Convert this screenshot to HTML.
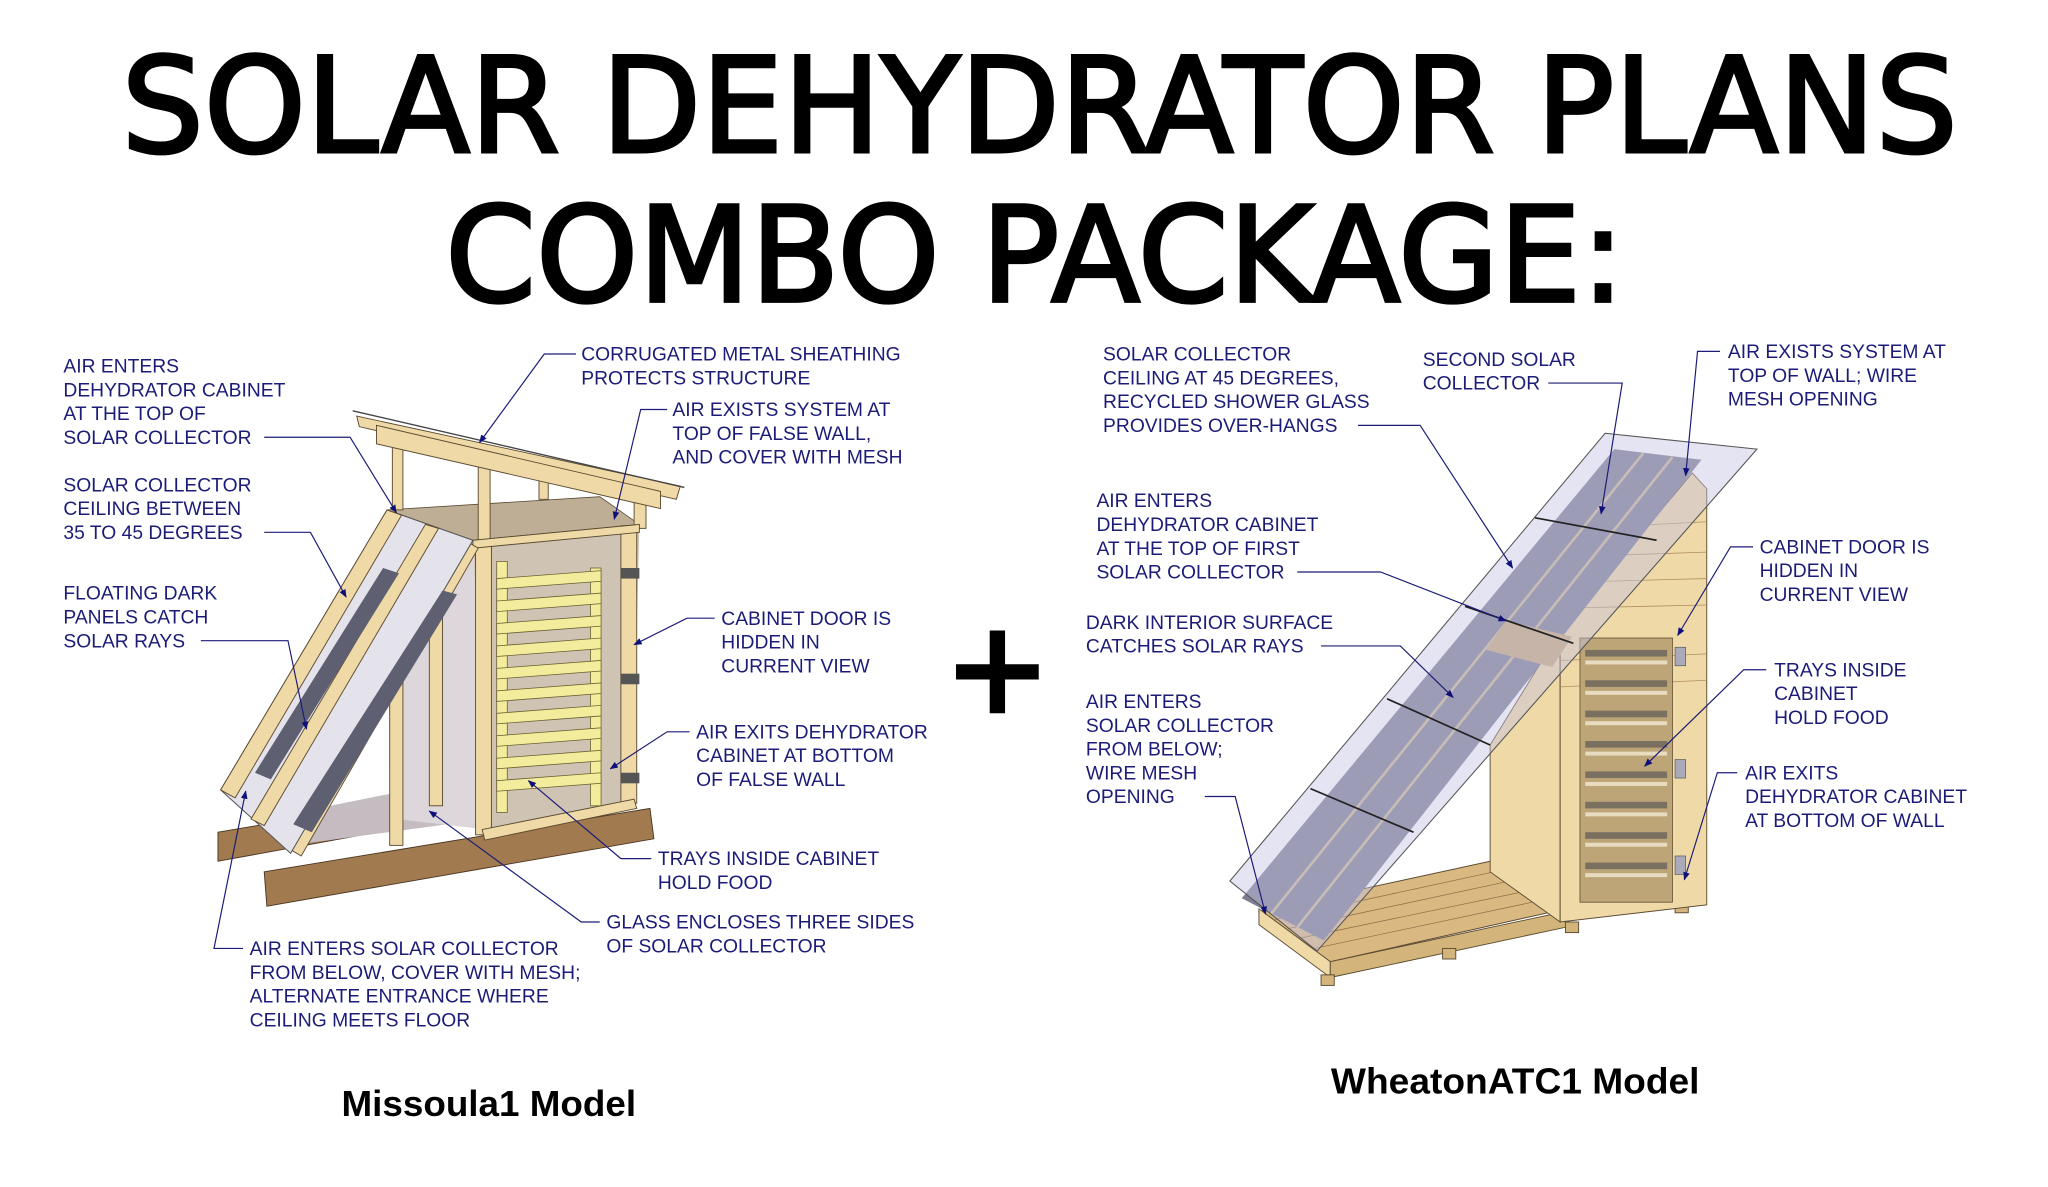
<!DOCTYPE html>
<html><head><meta charset="utf-8"><style>
html,body{margin:0;padding:0;background:#fff;}
svg{display:block;}
.t{font-family:"Liberation Sans",Arial,sans-serif;font-size:14.6px;fill:#1c1c78;}
.l{fill:none;stroke:#1c1c78;stroke-width:0.9;}
.w{fill:#efd9a6;stroke:#5a4a30;stroke-width:0.7;}
.wd{fill:#d3b47a;stroke:#5a4a30;stroke-width:0.7;}
.sk{fill:#a27a50;stroke:#4a3520;stroke-width:0.7;}
.tr{fill:#f3ec9c;stroke:#6a6030;stroke-width:0.6;}
</style></head><body>
<svg width="2048" height="1187" viewBox="0 0 1550.3 898.6" preserveAspectRatio="none" xmlns="http://www.w3.org/2000/svg">
<defs>
<marker id="a" viewBox="0 0 10 10" refX="9" refY="5" markerWidth="7" markerHeight="7" orient="auto"><path d="M0,1 L10,5 L0,9 z" fill="#10107a"/></marker>
</defs>
<!-- Title -->
<text x="92" y="115" textLength="1390" lengthAdjust="spacingAndGlyphs" style="font-family:'DejaVu Sans','Liberation Sans',sans-serif;font-size:100px;fill:#000;stroke:#000;stroke-width:2.5">SOLAR DEHYDRATOR PLANS</text>
<text x="337" y="228" textLength="893" lengthAdjust="spacingAndGlyphs" style="font-family:'DejaVu Sans','Liberation Sans',sans-serif;font-size:100px;fill:#000;stroke:#000;stroke-width:2.5">COMBO PACKAGE:</text>

<!-- LEFT DRAWING -->
<g>
<polygon class="sk" points="165,630 460,580 460,598 165,652"/>
<polygon class="sk" points="200,660 492,612 495,635 202,686"/>
<polygon points="220,640 368,620 479,600 460,585 300,600 200,620" fill="#c4bcc0"/>
<polygon points="293,386 358,409 368,628 300,620 295,600" fill="#ddd6da"/>
<rect x="295" y="480" width="10" height="160" class="w"/>
<rect x="325" y="430" width="10" height="180" class="w"/>
<polygon points="358,409 484,397 479,605 368,628" fill="#cfc4b4"/>
<polygon points="293,386 454,376 484,397 358,409" fill="#bfae96" stroke="#5a4a30" stroke-width="0.6"/>
<rect x="297" y="330" width="8" height="56" class="w"/>
<rect x="362" y="345" width="9" height="65" class="w"/>
<rect x="408" y="358" width="7" height="20" class="w"/>
<rect x="480" y="365" width="9" height="35" class="w"/>
<polygon class="w" points="270,315 515,368 512,378 272,323"/>
<polygon class="w" points="285,322 500,372 500,385 285,336"/>
<line x1="267" y1="311" x2="518" y2="369" stroke="#444" stroke-width="1"/>
<rect x="360" y="410" width="12" height="222" class="w"/>
<rect x="470" y="398" width="12" height="210" class="w"/>
<polygon class="w" points="358,409 484,397 484,403 358,415"/>
<polygon class="w" points="365,628 480,605 482,612 367,636"/>
<rect x="470" y="430" width="14" height="8" fill="#555"/>
<rect x="470" y="510" width="14" height="8" fill="#555"/>
<rect x="470" y="585" width="14" height="8" fill="#555"/>
<g>
<rect x="376" y="425" width="8" height="190" class="tr"/>
<rect x="447" y="430" width="8" height="180" class="tr"/>
<polygon class="tr" points="376,438 455,432 455,440 376,446"/>
<polygon class="tr" points="376,455 455,449 455,457 376,463"/>
<polygon class="tr" points="376,472 455,466 455,474 376,480"/>
<polygon class="tr" points="376,489 455,483 455,491 376,497"/>
<polygon class="tr" points="376,506 455,500 455,508 376,514"/>
<polygon class="tr" points="376,523 455,517 455,525 376,531"/>
<polygon class="tr" points="376,540 455,534 455,542 376,548"/>
<polygon class="tr" points="376,557 455,551 455,559 376,565"/>
<polygon class="tr" points="376,574 455,568 455,576 376,582"/>
<polygon class="tr" points="376,591 455,585 455,593 376,599"/>
</g>
<polygon class="w" points="352,409 362,415 228,648 218,642"/>
<polygon points="293,386 358,409 220,646 167,598" fill="#e4e2ea" stroke="#555" stroke-width="0.8"/>
<polygon class="w" points="293,386 304,390 178,604 167,598"/>
<polygon class="w" points="322,397 332,400 200,625 190,620"/>
<polygon points="290,430 302,434 205,590 193,585" fill="#5e6072"/>
<polygon points="335,447 346,450 236,630 222,624" fill="#5e6072"/>
</g>

<text x="755" y="540" text-anchor="middle" style="font-family:'DejaVu Sans',sans-serif;font-weight:bold;font-size:100px;fill:#000">+</text>

<!-- RIGHT DRAWING -->
<g>
<polygon points="953,690 1128,652 1185,688 1007,728" fill="#d9b882" stroke="#5a4a30" stroke-width="0.7"/>
<g stroke="#8a6a40" stroke-width="0.5">
<line x1="965" y1="696" x2="1140" y2="658"/><line x1="975" y1="703" x2="1152" y2="665"/>
<line x1="985" y1="710" x2="1163" y2="673"/><line x1="995" y1="718" x2="1174" y2="680"/>
</g>
<polygon class="w" points="953,688 1007,728 1007,740 953,700"/>
<polygon class="wd" points="1007,728 1185,690 1185,702 1007,740"/>
<rect x="1000" y="738" width="10" height="8" class="wd"/>
<rect x="1092" y="718" width="10" height="8" class="wd"/>
<rect x="1185" y="698" width="10" height="8" class="wd"/>
<rect x="1268" y="682" width="10" height="9" class="wd"/>
<polygon class="w" points="1128,564 1181,478 1181,698 1128,660"/>
<polygon class="w" points="1181,478 1281,358 1292,370 1292,685 1181,698"/>
<g stroke="#b09060" stroke-width="0.6">
<line x1="1181" y1="500" x2="1292" y2="495"/><line x1="1181" y1="520" x2="1292" y2="515"/>
<line x1="1195" y1="400" x2="1292" y2="395"/><line x1="1230" y1="420" x2="1292" y2="418"/>
<line x1="1215" y1="440" x2="1292" y2="438"/><line x1="1200" y1="460" x2="1292" y2="458"/>
</g>
<rect x="1196" y="483" width="70" height="200" fill="#bda578" stroke="#5a4a30" stroke-width="0.6"/>
<g fill="#7a7060">
<rect x="1200" y="492" width="62" height="5"/><rect x="1200" y="515" width="62" height="5"/>
<rect x="1200" y="538" width="62" height="5"/><rect x="1200" y="561" width="62" height="5"/>
<rect x="1200" y="584" width="62" height="5"/><rect x="1200" y="607" width="62" height="5"/>
<rect x="1200" y="630" width="62" height="5"/><rect x="1200" y="653" width="62" height="5"/>
</g>
<g fill="#e8dcc0">
<rect x="1200" y="500" width="62" height="3"/><rect x="1200" y="523" width="62" height="3"/>
<rect x="1200" y="546" width="62" height="3"/><rect x="1200" y="569" width="62" height="3"/>
<rect x="1200" y="592" width="62" height="3"/><rect x="1200" y="615" width="62" height="3"/>
<rect x="1200" y="638" width="62" height="3"/><rect x="1200" y="661" width="62" height="3"/>
</g>
<rect x="1268" y="490" width="8" height="14" fill="#aab" stroke="#555" stroke-width="0.5"/>
<rect x="1268" y="575" width="8" height="14" fill="#aab" stroke="#555" stroke-width="0.5"/>
<rect x="1268" y="648" width="8" height="14" fill="#aab" stroke="#555" stroke-width="0.5"/>
<polygon points="1222,340 1288,348 1002,712 940,680" fill="#7c7c92"/>
<g stroke="#c9b890" stroke-width="2">
<line x1="1244" y1="343" x2="962" y2="692"/>
<line x1="1266" y1="346" x2="982" y2="702"/>
</g>
<polygon points="1140,470 1190,482 1175,505 1125,492" fill="#c8a878"/>
<polygon points="1215,328 1330,340 997,720 931,667" fill="#c6c4e4" fill-opacity="0.45" stroke="#555" stroke-width="0.8"/>
<g stroke="#222" stroke-width="1.3">
<line x1="1162" y1="392" x2="1254" y2="409"/>
<line x1="1109" y1="459" x2="1191" y2="487"/>
<line x1="1050" y1="529" x2="1128" y2="564"/>
<line x1="992" y1="597" x2="1070" y2="630"/>
</g>
</g>

<!-- LEFT LABELS -->
<g class="t">
<text x="48" y="282">AIR ENTERS</text><text x="48" y="300">DEHYDRATOR CABINET</text><text x="48" y="318">AT THE TOP OF</text><text x="48" y="336">SOLAR COLLECTOR</text>
<text x="48" y="372">SOLAR COLLECTOR</text><text x="48" y="390">CEILING BETWEEN</text><text x="48" y="408">35 TO 45 DEGREES</text>
<text x="48" y="454">FLOATING DARK</text><text x="48" y="472">PANELS CATCH</text><text x="48" y="490">SOLAR RAYS</text>
<text x="440" y="273">CORRUGATED METAL SHEATHING</text><text x="440" y="291">PROTECTS STRUCTURE</text>
<text x="509" y="315">AIR EXISTS SYSTEM AT</text><text x="509" y="333">TOP OF FALSE WALL,</text><text x="509" y="351">AND COVER WITH MESH</text>
<text x="546" y="473">CABINET DOOR IS</text><text x="546" y="491">HIDDEN IN</text><text x="546" y="509">CURRENT VIEW</text>
<text x="527" y="559">AIR EXITS DEHYDRATOR</text><text x="527" y="577">CABINET AT BOTTOM</text><text x="527" y="595">OF FALSE WALL</text>
<text x="498" y="655">TRAYS INSIDE CABINET</text><text x="498" y="673">HOLD FOOD</text>
<text x="459" y="703">GLASS ENCLOSES THREE SIDES</text><text x="459" y="721">OF SOLAR COLLECTOR</text>
<text x="189" y="723">AIR ENTERS SOLAR COLLECTOR</text><text x="189" y="741">FROM BELOW, COVER WITH MESH;</text><text x="189" y="759">ALTERNATE ENTRANCE WHERE</text><text x="189" y="777">CEILING MEETS FLOOR</text>
</g>
<!-- RIGHT LABELS -->
<g class="t">
<text x="835" y="273">SOLAR COLLECTOR</text><text x="835" y="291">CEILING AT 45 DEGREES,</text><text x="835" y="309">RECYCLED SHOWER GLASS</text><text x="835" y="327">PROVIDES OVER-HANGS</text>
<text x="1077" y="277">SECOND SOLAR</text><text x="1077" y="295">COLLECTOR</text>
<text x="1308" y="271">AIR EXISTS SYSTEM AT</text><text x="1308" y="289">TOP OF WALL; WIRE</text><text x="1308" y="307">MESH OPENING</text>
<text x="830" y="384">AIR ENTERS</text><text x="830" y="402">DEHYDRATOR CABINET</text><text x="830" y="420">AT THE TOP OF FIRST</text><text x="830" y="438">SOLAR COLLECTOR</text>
<text x="822" y="476">DARK INTERIOR SURFACE</text><text x="822" y="494">CATCHES SOLAR RAYS</text>
<text x="822" y="536">AIR ENTERS</text><text x="822" y="554">SOLAR COLLECTOR</text><text x="822" y="572">FROM BELOW;</text><text x="822" y="590">WIRE MESH</text><text x="822" y="608">OPENING</text>
<text x="1332" y="419">CABINET DOOR IS</text><text x="1332" y="437">HIDDEN IN</text><text x="1332" y="455">CURRENT VIEW</text>
<text x="1343" y="512">TRAYS INSIDE</text><text x="1343" y="530">CABINET</text><text x="1343" y="548">HOLD FOOD</text>
<text x="1321" y="590">AIR EXITS</text><text x="1321" y="608">DEHYDRATOR CABINET</text><text x="1321" y="626">AT BOTTOM OF WALL</text>
</g>

<g class="l">
<polyline points="200,331 265,331 300,388" marker-end="url(#a)"/>
<polyline points="200,403 235,403 262,452" marker-end="url(#a)"/>
<polyline points="152,485 218,485 232,552" marker-end="url(#a)"/>
<polyline points="436,268 412,268 363,335" marker-end="url(#a)"/>
<polyline points="505,310 485,310 465,393" marker-end="url(#a)"/>
<polyline points="541,468 520,468 480,488" marker-end="url(#a)"/>
<polyline points="522,554 505,554 462,582" marker-end="url(#a)"/>
<polyline points="493,650 470,650 400,591" marker-end="url(#a)"/>
<polyline points="454,698 440,698 325,614" marker-end="url(#a)"/>
<polyline points="184,718 162,718 186,599" marker-end="url(#a)"/>
<polyline points="1028,322 1075,322 1145,430" marker-end="url(#a)"/>
<polyline points="1172,290 1228,290 1212,389" marker-end="url(#a)"/>
<polyline points="1302,266 1285,266 1276,360" marker-end="url(#a)"/>
<polyline points="982,433 1045,433 1140,470" marker-end="url(#a)"/>
<polyline points="1000,489 1060,489 1100,528" marker-end="url(#a)"/>
<polyline points="912,603 935,603 958,692" marker-end="url(#a)"/>
<polyline points="1327,414 1310,414 1270,481" marker-end="url(#a)"/>
<polyline points="1337,507 1320,507 1245,580" marker-end="url(#a)"/>
<polyline points="1315,585 1300,585 1275,666" marker-end="url(#a)"/>
</g>

<text x="370" y="845" text-anchor="middle" textLength="223" lengthAdjust="spacingAndGlyphs" style="font-family:'Liberation Sans',Arial,sans-serif;font-weight:bold;font-size:27px;fill:#000">Missoula1 Model</text>
<text x="1147" y="828" text-anchor="middle" textLength="279" lengthAdjust="spacingAndGlyphs" style="font-family:'Liberation Sans',Arial,sans-serif;font-weight:bold;font-size:27px;fill:#000">WheatonATC1 Model</text>
</svg>
</body></html>
